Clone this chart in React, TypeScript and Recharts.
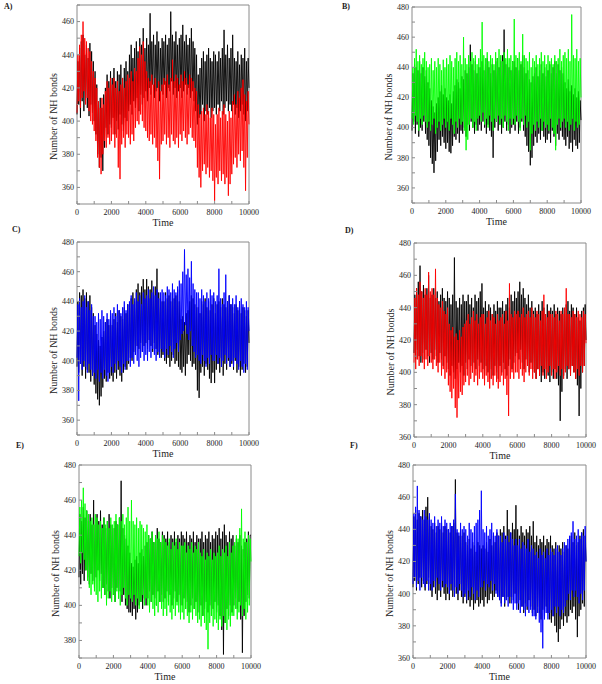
import React from 'react';
import { LineChart, Line, XAxis, YAxis, ReferenceArea, Label } from 'recharts';

// one sample every 50 time units (0..10000), low/high swings
const STEP = 50;

const aBlack = [
  404, 436, 410, 444, 402, 448, 412, 452, 406, 440, 414, 446, 408, 438, 403, 447, 410, 442, 405, 436,
  400, 430, 392, 422, 380, 410, 372, 414, 378, 408, 370, 416, 384, 420, 396, 428, 392, 424, 398, 430,
  396, 426, 402, 432, 392, 424, 400, 430, 395, 428, 404, 434, 398, 426, 394, 432, 402, 436, 400, 430,
  406, 440, 410, 446, 404, 438, 412, 444, 408, 448, 414, 442, 406, 450, 416, 446, 410, 456, 414, 444,
  418, 450, 412, 446, 420, 465, 416, 448, 422, 452, 414, 446, 418, 454, 420, 448, 412, 444, 418, 450,
  416, 448, 422, 452, 414, 446, 420, 450, 418, 466, 424, 452, 416, 448, 420, 454, 414, 446, 418, 450,
  420, 452, 414, 458, 418, 448, 422, 452, 416, 446, 420, 450, 414, 456, 418, 448, 412, 444, 406, 440,
  398, 428, 402, 432, 404, 438, 410, 442, 400, 436, 406, 440, 404, 444, 408, 438, 402, 436, 406, 442,
  408, 440, 404, 436, 410, 442, 406, 438, 412, 444, 404, 455, 408, 440, 412, 446, 406, 438, 410, 444,
  406, 452, 410, 438, 404, 436, 408, 442, 402, 434, 406, 440, 410, 438, 404, 444, 400, 436, 406, 438,
  420,
];
const aRed = [
  405, 440, 412, 446, 408, 452, 414, 460, 418, 450, 410, 448, 414, 444, 406, 442, 400, 436, 398, 430,
  394, 426, 388, 420, 378, 412, 372, 408, 368, 414, 380, 410, 388, 418, 384, 424, 390, 420, 386, 426,
  388, 422, 392, 426, 384, 420, 390, 424, 372, 418, 365, 422, 386, 426, 390, 420, 384, 424, 392, 428,
  390, 426, 386, 430, 392, 424, 388, 432, 396, 430, 400, 438, 398, 445, 404, 440, 400, 448, 396, 436,
  394, 430, 390, 426, 388, 424, 392, 428, 386, 422, 390, 426, 384, 420, 376, 424, 365, 418, 386, 422,
  388, 426, 392, 424, 386, 428, 390, 422, 384, 426, 392, 437, 388, 424, 386, 428, 390, 426, 384, 422,
  392, 428, 388, 424, 394, 430, 390, 426, 386, 422, 392, 428, 396, 426, 390, 424, 388, 420, 384, 418,
  372, 410, 366, 404, 360, 406, 370, 408, 374, 404, 368, 410, 372, 406, 366, 402, 370, 408, 364, 404,
  352, 398, 366, 404, 362, 408, 370, 402, 364, 406, 368, 410, 362, 404, 366, 400, 355, 406, 362, 402,
  368, 412, 374, 416, 378, 410, 372, 418, 380, 414, 376, 420, 382, 425, 372, 416, 358, 412, 378, 418,
  398,
];

const bBlack = [
  398, 436, 404, 442, 396, 440, 402, 438, 394, 444, 400, 436, 398, 440, 404, 434, 396, 438, 392, 430,
  388, 426, 380, 418, 376, 414, 370, 410, 378, 416, 384, 420, 392, 424, 388, 428, 394, 422, 390, 426,
  386, 420, 390, 418, 384, 422, 383, 416, 388, 424, 394, 428, 392, 432, 396, 430, 390, 426, 398, 434,
  396, 432, 400, 438, 394, 436, 402, 440, 398, 455, 404, 442, 400, 438, 396, 444, 402, 436, 398, 440,
  402, 440, 398, 444, 404, 438, 400, 442, 396, 446, 402, 440, 398, 436, 394, 442, 380, 438, 400, 444,
  404, 446, 398, 440, 402, 444, 396, 448, 400, 465, 404, 442, 398, 446, 402, 440, 396, 438, 400, 444,
  402, 444, 398, 440, 404, 446, 396, 438, 400, 442, 404, 448, 398, 440, 394, 436, 388, 438, 384, 432,
  375, 430, 380, 434, 388, 436, 394, 440, 390, 434, 396, 438, 392, 442, 398, 436, 394, 440, 390, 434,
  392, 438, 396, 442, 390, 436, 398, 440, 394, 444, 388, 436, 396, 442, 392, 438, 398, 440, 394, 436,
  392, 430, 388, 426, 394, 432, 386, 424, 390, 428, 384, 422, 392, 426, 388, 420, 386, 424, 390, 418,
  405,
];
const bGreen = [
  406, 440, 402, 446, 408, 452, 404, 444, 398, 448, 406, 442, 402, 446, 408, 450, 404, 444, 400, 440,
  404, 442, 398, 446, 402, 438, 406, 444, 396, 440, 400, 446, 404, 442, 398, 438, 402, 445, 406, 440,
  400, 446, 404, 442, 398, 448, 406, 444, 402, 440, 396, 446, 404, 450, 400, 444, 406, 448, 402, 442,
  404, 460, 398, 446, 385, 442, 392, 448, 402, 444, 406, 450, 400, 446, 404, 448, 398, 442, 406, 446,
  408, 452, 404, 470, 410, 448, 402, 446, 406, 450, 400, 444, 408, 448, 404, 446, 398, 442, 406, 450,
  404, 446, 408, 452, 402, 448, 406, 444, 400, 450, 408, 446, 404, 452, 398, 446, 406, 448, 402, 444,
  406, 472, 402, 448, 408, 446, 404, 450, 398, 444, 406, 462, 402, 448, 408, 446, 400, 444, 404, 450,
  385, 440, 396, 446, 402, 444, 398, 448, 404, 442, 400, 446, 406, 450, 398, 444, 404, 448, 400, 442,
  402, 448, 398, 444, 406, 446, 400, 442, 396, 448, 385, 444, 402, 446, 406, 452, 400, 444, 404, 448,
  406, 450, 400, 446, 404, 452, 398, 444, 402, 475, 406, 448, 398, 446, 404, 452, 400, 444, 402, 446,
  420,
];

const cBlack = [
  396, 440, 392, 446, 398, 444, 390, 448, 396, 442, 388, 446, 394, 440, 392, 444, 386, 436, 390, 432,
  384, 424, 378, 418, 374, 414, 370, 410, 376, 416, 382, 420, 388, 426, 386, 428, 392, 424, 388, 430,
  390, 424, 386, 428, 392, 432, 388, 426, 394, 434, 390, 430, 386, 428, 392, 436, 396, 432, 394, 438,
  398, 438, 402, 442, 400, 446, 406, 440, 404, 448, 410, 452, 408, 446, 412, 450, 406, 455, 410, 448,
  412, 455, 408, 450, 414, 448, 410, 454, 406, 446, 412, 450, 408, 462, 404, 446, 406, 442, 402, 440,
  404, 440, 400, 446, 398, 442, 402, 444, 396, 440, 400, 446, 404, 442, 398, 444, 400, 448, 396, 440,
  394, 428, 392, 430, 396, 426, 390, 432, 398, 434, 404, 440, 400, 444, 396, 442, 398, 438, 394, 436,
  380, 436, 375, 432, 392, 440, 396, 438, 390, 442, 398, 436, 394, 440, 388, 434, 385, 438, 392, 442,
  385, 432, 394, 438, 398, 440, 392, 436, 396, 442, 390, 438, 398, 436, 394, 440, 400, 444, 396, 438,
  398, 436, 394, 432, 400, 438, 392, 434, 396, 440, 390, 432, 394, 436, 398, 434, 392, 430, 396, 434,
  412,
];
const cBlue = [
  402, 438, 373, 442, 398, 436, 394, 440, 400, 444, 396, 436, 392, 440, 398, 434, 394, 438, 390, 430,
  392, 430, 388, 426, 394, 432, 386, 428, 392, 434, 388, 430, 394, 426, 390, 432, 386, 428, 392, 434,
  396, 432, 392, 436, 398, 430, 394, 438, 400, 434, 396, 432, 392, 436, 398, 440, 394, 434, 400, 438,
  400, 440, 396, 444, 402, 438, 398, 442, 404, 446, 400, 440, 396, 444, 402, 438, 406, 446, 400, 442,
  404, 444, 400, 448, 406, 442, 402, 446, 408, 450, 404, 444, 400, 448, 406, 442, 402, 446, 408, 448,
  406, 446, 402, 444, 408, 450, 404, 448, 410, 446, 406, 452, 402, 448, 408, 446, 412, 450, 406, 454,
  414, 452, 418, 460, 420, 475, 424, 458, 418, 462, 414, 456, 420, 467, 410, 452, 406, 448, 402, 446,
  404, 446, 400, 442, 398, 448, 404, 444, 400, 440, 396, 446, 402, 442, 398, 448, 404, 444, 400, 446,
  400, 440, 404, 444, 398, 462, 402, 442, 396, 438, 400, 446, 404, 458, 398, 440, 402, 444, 396, 438,
  400, 442, 396, 438, 402, 444, 398, 436, 394, 440, 400, 442, 396, 438, 392, 436, 398, 440, 394, 436,
  420,
];

const dBlack = [
  412, 448, 408, 452, 414, 456, 410, 466, 406, 450, 412, 454, 408, 448, 414, 452, 410, 460, 406, 446,
  412, 448, 408, 452, 414, 446, 410, 450, 406, 444, 412, 448, 408, 452, 404, 446, 410, 444, 406, 450,
  402, 446, 398, 442, 404, 448, 400, 471, 396, 444, 402, 440, 406, 446, 400, 442, 404, 448, 398, 444,
  406, 444, 402, 448, 408, 442, 404, 446, 400, 440, 406, 448, 402, 444, 408, 446, 404, 450, 406, 455,
  402, 440, 398, 444, 404, 438, 400, 442, 396, 440, 402, 436, 398, 442, 404, 438, 400, 444, 396, 440,
  404, 440, 400, 444, 406, 438, 402, 442, 398, 446, 404, 440, 408, 448, 402, 444, 406, 450, 410, 446,
  412, 450, 408, 456, 414, 448, 406, 452, 402, 446, 408, 442, 404, 448, 400, 440, 406, 444, 402, 438,
  400, 440, 396, 436, 402, 442, 398, 438, 394, 444, 400, 440, 396, 436, 402, 442, 398, 438, 394, 440,
  400, 438, 396, 442, 402, 436, 396, 440, 392, 438, 370, 436, 388, 440, 398, 438, 402, 442, 396, 444,
  402, 438, 398, 442, 404, 440, 400, 436, 396, 440, 392, 434, 373, 432, 390, 438, 400, 440, 404, 442,
  420,
];
const dRed = [
  406, 446, 402, 452, 408, 448, 404, 456, 410, 450, 406, 446, 402, 452, 408, 448, 404, 462, 410, 450,
  406, 452, 402, 448, 408, 464, 404, 446, 400, 442, 406, 440, 398, 444, 402, 438, 396, 436, 400, 440,
  392, 430, 388, 426, 384, 428, 390, 422, 378, 424, 372, 420, 384, 426, 388, 422, 386, 428, 392, 430,
  394, 432, 398, 436, 392, 430, 396, 434, 400, 438, 394, 432, 398, 436, 392, 430, 396, 434, 400, 436,
  396, 436, 392, 430, 398, 434, 394, 438, 390, 432, 396, 436, 392, 434, 398, 430, 394, 436, 390, 432,
  394, 434, 398, 436, 392, 430, 396, 438, 386, 432, 373, 455, 396, 436, 400, 434, 396, 438, 400, 436,
  400, 438, 396, 434, 402, 436, 398, 440, 394, 434, 400, 436, 404, 438, 398, 434, 402, 440, 396, 436,
  400, 434, 396, 438, 402, 436, 398, 432, 404, 438, 398, 448, 402, 436, 396, 434, 400, 438, 404, 436,
  398, 436, 402, 434, 396, 438, 400, 436, 404, 432, 398, 438, 402, 436, 396, 440, 400, 452, 404, 436,
  402, 436, 398, 434, 404, 438, 400, 436, 396, 434, 402, 438, 398, 436, 404, 434, 400, 438, 404, 436,
  418,
];

const eBlack = [
  416, 452, 412, 448, 418, 456, 414, 450, 420, 454, 416, 448, 412, 452, 418, 446, 414, 460, 410, 446,
  416, 452, 420, 448, 414, 454, 418, 446, 410, 450, 406, 444, 412, 448, 408, 452, 404, 446, 410, 444,
  406, 444, 402, 448, 410, 446, 404, 450, 408, 471, 402, 444, 406, 440, 400, 438, 398, 434, 396, 430,
  396, 424, 394, 422, 398, 426, 392, 428, 396, 424, 400, 430, 402, 432, 398, 428, 404, 434, 400, 436,
  404, 440, 408, 438, 402, 442, 406, 436, 404, 440, 400, 444, 408, 438, 402, 436, 406, 442, 402, 440,
  404, 438, 408, 442, 402, 436, 406, 440, 400, 438, 404, 442, 408, 436, 402, 440, 406, 438, 400, 442,
  400, 440, 404, 438, 398, 442, 402, 436, 396, 440, 400, 438, 404, 442, 398, 436, 402, 440, 396, 438,
  396, 438, 400, 442, 394, 436, 398, 440, 402, 438, 396, 442, 400, 436, 394, 440, 398, 438, 402, 442,
  396, 440, 400, 444, 394, 438, 386, 442, 372, 446, 390, 440, 398, 436, 394, 442, 400, 438, 396, 440,
  400, 434, 404, 438, 398, 436, 402, 440, 392, 434, 373, 432, 394, 436, 402, 438, 406, 442, 404, 440,
  440,
];
const eGreen = [
  428, 456, 424, 460, 430, 467, 426, 458, 420, 454, 414, 452, 410, 448, 406, 450, 412, 446, 408, 452,
  406, 450, 402, 446, 408, 448, 404, 444, 410, 450, 406, 446, 400, 448, 404, 444, 408, 450, 402, 446,
  406, 448, 402, 452, 408, 446, 404, 450, 400, 448, 406, 452, 410, 446, 404, 450, 400, 456, 406, 448,
  404, 460, 402, 448, 406, 446, 400, 450, 404, 444, 398, 448, 402, 446, 406, 444, 400, 442, 404, 446,
  400, 440, 396, 438, 402, 442, 398, 436, 394, 440, 400, 438, 396, 442, 402, 436, 398, 440, 394, 438,
  398, 436, 394, 434, 400, 438, 396, 432, 392, 436, 398, 434, 394, 438, 400, 432, 396, 436, 392, 434,
  396, 434, 392, 436, 398, 430, 394, 434, 390, 432, 396, 436, 392, 430, 398, 434, 394, 432, 390, 436,
  392, 430, 388, 428, 394, 432, 390, 426, 386, 430, 375, 428, 390, 432, 394, 426, 388, 430, 392, 428,
  390, 430, 386, 434, 392, 428, 388, 432, 394, 430, 390, 434, 386, 428, 392, 436, 388, 430, 394, 434,
  394, 436, 398, 440, 392, 438, 396, 444, 400, 455, 394, 438, 398, 442, 392, 436, 396, 440, 400, 438,
  425,
];

const fBlack = [
  404, 448, 408, 452, 402, 446, 406, 450, 410, 448, 404, 452, 408, 446, 402, 454, 406, 460, 410, 448,
  402, 442, 398, 440, 404, 444, 400, 438, 396, 442, 402, 440, 398, 444, 404, 438, 400, 442, 396, 440,
  400, 440, 396, 438, 402, 442, 398, 444, 404, 471, 400, 438, 396, 436, 402, 440, 398, 436, 394, 438,
  398, 432, 394, 430, 396, 434, 392, 428, 396, 432, 390, 430, 394, 426, 396, 432, 392, 430, 394, 428,
  396, 430, 392, 428, 398, 432, 394, 426, 396, 434, 400, 430, 396, 436, 398, 432, 402, 438, 398, 436,
  396, 440, 394, 438, 398, 442, 392, 436, 396, 452, 398, 440, 394, 438, 398, 444, 396, 440, 400, 455,
  394, 440, 390, 436, 396, 442, 392, 438, 388, 436, 394, 440, 390, 438, 396, 442, 392, 436, 388, 445,
  390, 432, 386, 436, 392, 430, 388, 434, 384, 432, 390, 436, 386, 430, 392, 434, 388, 432, 384, 436,
  382, 430, 386, 428, 380, 432, 376, 426, 370, 430, 378, 428, 384, 432, 380, 426, 386, 430, 382, 428,
  386, 434, 390, 436, 388, 432, 392, 438, 384, 430, 373, 432, 386, 436, 390, 438, 394, 440, 392, 436,
  420,
];
const fBlue = [
  406, 450, 410, 454, 404, 467, 408, 452, 402, 448, 410, 446, 406, 452, 404, 448, 408, 446, 402, 450,
  406, 446, 402, 444, 408, 448, 404, 442, 410, 446, 406, 444, 402, 448, 408, 442, 404, 446, 406, 444,
  404, 440, 400, 444, 406, 442, 402, 446, 398, 462, 404, 440, 400, 438, 406, 444, 402, 440, 398, 442,
  400, 440, 396, 436, 402, 444, 398, 440, 404, 438, 400, 442, 396, 444, 402, 446, 398, 452, 404, 464,
  404, 440, 408, 438, 402, 442, 406, 436, 404, 440, 408, 444, 402, 438, 406, 436, 400, 440, 398, 436,
  396, 436, 392, 432, 398, 438, 394, 434, 396, 436, 392, 432, 398, 438, 394, 434, 390, 430, 394, 434,
  390, 430, 394, 434, 388, 428, 392, 432, 390, 430, 386, 428, 392, 434, 388, 426, 390, 430, 386, 428,
  386, 424, 384, 426, 388, 422, 382, 428, 376, 424, 366, 426, 384, 422, 388, 428, 384, 424, 388, 428,
  390, 426, 386, 424, 392, 428, 388, 430, 392, 426, 386, 424, 390, 428, 388, 432, 392, 430, 396, 434,
  400, 436, 396, 438, 402, 445, 398, 434, 402, 436, 398, 440, 394, 434, 400, 438, 396, 436, 402, 442,
  420,
];

const xTicks = [0, 1000, 2000, 3000, 4000, 5000, 6000, 7000, 8000, 9000, 10000];
const yTickPool = [350, 360, 370, 380, 390, 400, 410, 420, 430, 440, 450, 460, 470, 480];

const makeRows = (k: number[], c: number[]) => k.map((v, i) => ({ t: i * STEP, k: v, c: c[i] }));

const panels = [
  { tag: 'A)', tagX: 4, tagY: 2, x: 77, y: 5, w: 172, h: 199, dom: [350, 470], labels: [360, 380, 400, 420, 440, 460], color: '#ff0000', data: makeRows(aBlack, aRed) },
  { tag: 'B)', tagX: 342, tagY: 2, x: 412, y: 7, w: 169, h: 196, dom: [350, 480], labels: [360, 380, 400, 420, 440, 460, 480], color: '#00ff00', data: makeRows(bBlack, bGreen) },
  { tag: 'C)', tagX: 12, tagY: 225, x: 77, y: 242, w: 172, h: 193, dom: [350, 480], labels: [360, 380, 400, 420, 440, 460, 480], color: '#0000ff', data: makeRows(cBlack, cBlue) },
  { tag: 'D)', tagX: 345, tagY: 226, x: 414, y: 243, w: 172, h: 194, dom: [360, 480], labels: [360, 380, 400, 420, 440, 460, 480], color: '#ff0000', data: makeRows(dBlack, dRed) },
  { tag: 'E)', tagX: 16, tagY: 441, x: 79, y: 465, w: 172, h: 193, dom: [370, 480], labels: [380, 400, 420, 440, 460, 480], color: '#00ff00', data: makeRows(eBlack, eGreen) },
  { tag: 'F)', tagX: 350, tagY: 441, x: 413, y: 465, w: 173, h: 193, dom: [360, 480], labels: [360, 380, 400, 420, 440, 460, 480], color: '#0000ff', data: makeRows(fBlack, fBlue) },
];

const FRAME = '#8a8a8a';
const YW = 48;
const TOP = 6;
const RIGHT = 14;
const XH = 26;

// y title sits a little below the middle of the axis, as in the original plots
const YTitle = (props: any) => {
  const { x, y, width, height } = props.viewBox;
  const cx = x + width / 2;
  const cy = y + height / 2 + 12;
  return (
    <text x={cx} y={cy} transform={`rotate(-90 ${cx} ${cy})`} textAnchor="middle" dominantBaseline="central" fontSize={10} fill="#222">
      Number of NH bonds
    </text>
  );
};

const Panel = ({ p }: { p: typeof panels[number] }) => {
  const yTicks = yTickPool.filter((v) => v >= p.dom[0] && v <= p.dom[1]);
  return (
    <>
      <div style={{ position: 'absolute', left: p.tagX, top: p.tagY, fontSize: 8, fontWeight: 'bold' }}>{p.tag}</div>
      <div style={{ position: 'absolute', left: p.x - YW, top: p.y - TOP }}>
        <LineChart width={YW + p.w + RIGHT} height={TOP + p.h + XH} data={p.data} margin={{ top: TOP, right: RIGHT, left: 0, bottom: 0 }}>
          <XAxis
            type="number"
            dataKey="t"
            domain={[0, 10000]}
            ticks={xTicks}
            interval={0}
            tickFormatter={(v: number) => (v % 2000 === 0 ? String(v) : '')}
            axisLine={false}
            stroke={FRAME}
            tickSize={-3}
            tickMargin={8}
            tick={{ fontSize: 8, fill: '#222' }}
            height={XH}
          >
            <Label value="Time" position="insideBottom" offset={4} fontSize={10} fill="#222" />
          </XAxis>
          <YAxis
            type="number"
            domain={p.dom}
            ticks={yTicks}
            interval={0}
            allowDataOverflow
            tickFormatter={(v: number) => (p.labels.includes(v) ? String(v) : '')}
            axisLine={false}
            stroke={FRAME}
            tickSize={-3}
            tickMargin={6}
            tick={{ fontSize: 8, fill: '#222' }}
            width={YW}
          >
            <Label content={YTitle} />
          </YAxis>
          <Line dataKey="k" stroke="#000" strokeWidth={0.9} dot={false} isAnimationActive={false} />
          <Line dataKey="c" stroke={p.color} strokeWidth={0.9} dot={false} isAnimationActive={false} />
          <ReferenceArea x1={0} x2={10000} y1={p.dom[0]} y2={p.dom[1]} fill="none" stroke={FRAME} strokeWidth={1} />
        </LineChart>
      </div>
    </>
  );
};

export default function App() {
  return (
    <div style={{ position: 'absolute', left: 0, top: 0, width: 602, height: 684, background: '#fff', fontFamily: '"Liberation Serif", serif', color: '#222' }}>
      {panels.map((p) => (
        <Panel key={p.tag} p={p} />
      ))}
    </div>
  );
}
